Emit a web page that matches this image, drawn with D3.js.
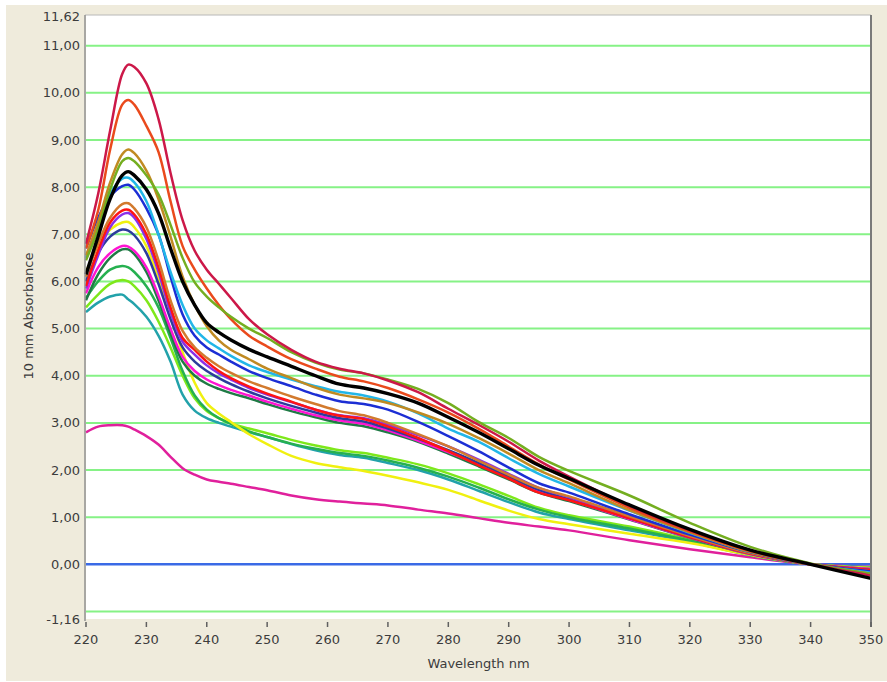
<!DOCTYPE html>
<html>
<head>
    <meta charset="utf-8">
    <script type="text/javascript" src="https://d3js.org/d3.v7.min.js"></script>
    <style>
        body { margin: 0; background: #ffffff; }
        svg { display: block; font-family: "DejaVu Sans", "Liberation Sans", sans-serif; }
    </style>
</head>
<body>
    <svg></svg>
    <script>
        // wavelengths (nm) at which each spectrum was read
        const wavelengths = [220, 222, 224, 226, 227, 228, 230, 232, 234, 236, 238, 240, 242, 244, 247, 250, 254, 258, 262, 266, 270, 275, 280, 285, 290, 295, 300, 310, 320, 330, 340, 350];

        const crimson   = [6.8, 7.85, 9.2, 10.4, 10.6, 10.55, 10.2, 9.45, 8.3, 7.3, 6.65, 6.25, 5.95, 5.65, 5.2, 4.88, 4.55, 4.3, 4.15, 4.05, 3.9, 3.65, 3.3, 2.96, 2.6, 2.2, 1.86, 1.24, 0.72, 0.3, 0.0, -0.24];
        const orangeRed = [6.7, 7.5, 8.8, 9.75, 9.85, 9.75, 9.3, 8.75, 7.7, 6.75, 6.25, 5.85, 5.5, 5.2, 4.85, 4.62, 4.35, 4.15, 3.98, 3.88, 3.74, 3.5, 3.22, 2.88, 2.5, 2.12, 1.8, 1.2, 0.7, 0.28, 0.0, -0.22];
        const olive     = [6.45, 7.1, 7.95, 8.55, 8.62, 8.55, 8.25, 7.85, 7.2, 6.5, 5.98, 5.68, 5.45, 5.25, 5.0, 4.8, 4.5, 4.28, 4.13, 4.05, 3.92, 3.72, 3.42, 3.02, 2.68, 2.28, 1.98, 1.46, 0.88, 0.37, 0.02, -0.2];
        const goldBrown = [6.55, 7.25, 8.1, 8.7, 8.8, 8.72, 8.35, 7.75, 6.95, 6.1, 5.5, 5.05, 4.75, 4.55, 4.35, 4.15, 3.95, 3.75, 3.6, 3.52, 3.42, 3.22, 2.98, 2.68, 2.35, 2.0, 1.72, 1.15, 0.68, 0.27, 0.0, -0.2];
        const black     = [6.15, 6.95, 7.75, 8.25, 8.33, 8.25, 7.95, 7.45, 6.7, 6.0, 5.5, 5.12, 4.92, 4.76, 4.56, 4.4, 4.2, 4.0, 3.82, 3.74, 3.62, 3.42, 3.12, 2.8, 2.45, 2.1, 1.82, 1.26, 0.74, 0.3, 0.0, -0.3];
        const cyan      = [6.5, 7.2, 7.85, 8.18, 8.2, 8.1, 7.7, 7.0, 6.2, 5.5, 5.0, 4.75, 4.58, 4.42, 4.22, 4.08, 3.92, 3.78, 3.66, 3.58, 3.45, 3.2, 2.88, 2.6, 2.25, 1.92, 1.65, 1.14, 0.67, 0.27, 0.0, -0.18];
        const blue      = [6.7, 7.35, 7.8, 8.02, 8.05, 7.95, 7.55, 7.0, 6.1, 5.3, 4.85, 4.6, 4.45, 4.3, 4.1, 3.95, 3.78, 3.6, 3.46, 3.4, 3.28, 3.02, 2.72, 2.4, 2.05, 1.72, 1.52, 1.06, 0.63, 0.26, 0.0, -0.15];
        const peru      = [6.1, 6.8, 7.35, 7.64, 7.66, 7.55, 7.15, 6.45, 5.6, 4.95, 4.6, 4.38, 4.2, 4.06, 3.88, 3.74, 3.56, 3.4, 3.25, 3.16, 3.0, 2.76, 2.5, 2.2, 1.9, 1.62, 1.44, 1.02, 0.6, 0.24, 0.0, -0.15];
        const red       = [5.9, 6.65, 7.25, 7.5, 7.52, 7.42, 7.0, 6.3, 5.45, 4.8, 4.55, 4.3, 4.1, 3.95, 3.77, 3.62, 3.45, 3.28, 3.15, 3.08, 2.92, 2.68, 2.4, 2.1, 1.82, 1.52, 1.36, 0.98, 0.58, 0.23, 0.0, -0.12];
        const purple    = [5.85, 6.55, 7.15, 7.42, 7.45, 7.35, 6.9, 6.2, 5.35, 4.72, 4.45, 4.22, 4.05, 3.92, 3.74, 3.6, 3.44, 3.28, 3.16, 3.1, 2.96, 2.74, 2.5, 2.22, 1.92, 1.62, 1.42, 1.0, 0.6, 0.24, 0.0, -0.14];
        const yellow    = [6.2, 6.75, 7.1, 7.25, 7.26, 7.15, 6.75, 6.05, 5.25, 4.5, 3.85, 3.42, 3.2, 3.02, 2.76, 2.55, 2.3, 2.15, 2.06, 1.98, 1.88, 1.74, 1.58, 1.36, 1.14, 0.96, 0.85, 0.65, 0.45, 0.2, 0.0, -0.08];
        const navy      = [6.0, 6.6, 6.95, 7.1, 7.08, 6.98, 6.6, 5.95, 5.2, 4.6, 4.3, 4.1, 3.95, 3.82, 3.66, 3.52, 3.36, 3.22, 3.1, 3.03, 2.88, 2.66, 2.42, 2.15, 1.86, 1.58, 1.38, 0.98, 0.58, 0.23, 0.0, -0.12];
        const magenta   = [5.75, 6.3, 6.6, 6.75, 6.74, 6.65, 6.3, 5.7, 5.0, 4.4, 4.1, 3.92, 3.8, 3.7, 3.58, 3.45, 3.3, 3.16, 3.05, 2.98, 2.84, 2.62, 2.38, 2.12, 1.84, 1.55, 1.37, 0.96, 0.57, 0.22, 0.0, -0.1];
        const darkGreen = [5.6, 6.15, 6.5, 6.68, 6.68, 6.58, 6.2, 5.6, 4.9, 4.3, 4.0, 3.83, 3.72, 3.63, 3.52, 3.4, 3.25, 3.12, 3.0, 2.93, 2.8, 2.6, 2.35, 2.08, 1.8, 1.52, 1.34, 0.95, 0.56, 0.22, 0.0, -0.1];
        const seaGreen  = [5.65, 6.0, 6.25, 6.33, 6.3, 6.2, 5.9, 5.45, 4.8, 4.1, 3.58, 3.28, 3.1, 2.98, 2.82, 2.7, 2.56, 2.45, 2.36, 2.3, 2.2, 2.05, 1.86, 1.63, 1.38, 1.16, 1.0, 0.76, 0.5, 0.2, 0.0, -0.08];
        const lawnGreen = [5.45, 5.72, 5.95, 6.03, 6.0, 5.9, 5.6, 5.15, 4.6, 4.0, 3.52, 3.25, 3.1, 2.99, 2.88, 2.78, 2.64, 2.52, 2.42, 2.36, 2.26, 2.12, 1.93, 1.7, 1.45, 1.2, 1.04, 0.8, 0.52, 0.2, 0.0, -0.08];
        const teal      = [5.35, 5.55, 5.68, 5.72, 5.62, 5.52, 5.25, 4.85, 4.3, 3.6, 3.26, 3.1, 3.0, 2.92, 2.8, 2.7, 2.55, 2.42, 2.32, 2.26, 2.15, 2.0, 1.8, 1.56, 1.32, 1.1, 0.96, 0.72, 0.48, 0.19, 0.0, -0.06];
        const pink      = [2.8, 2.92, 2.95, 2.95, 2.92, 2.86, 2.72, 2.54, 2.28, 2.04, 1.9, 1.8, 1.75, 1.71, 1.64, 1.57, 1.46, 1.38, 1.33, 1.29, 1.25, 1.16, 1.08, 0.98, 0.88, 0.8, 0.72, 0.51, 0.32, 0.15, 0.0, -0.05];

        // drawing order: first drawn lies underneath
        const seriesNames = ["pink", "teal", "lawnGreen", "seaGreen", "yellow", "darkGreen", "magenta", "navy", "purple", "red", "peru", "blue", "cyan", "goldBrown", "orangeRed", "olive", "crimson", "black"];
        const seriesValues = [pink, teal, lawnGreen, seaGreen, yellow, darkGreen, magenta, navy, purple, red, peru, blue, cyan, goldBrown, orangeRed, olive, crimson, black];
        const seriesColors = ["#e0209c", "#22a2aa", "#7ee81a", "#26b050", "#f0f010", "#1f7a45", "#ff14d2", "#2c3c9c", "#8a30e8", "#ff1414", "#d27a2e", "#1c2ed4", "#22b6e8", "#c08a22", "#ea4a1c", "#74ae20", "#cc1848", "#000000"];

        const yTicks = [-1.16, 0, 1, 2, 3, 4, 5, 6, 7, 8, 9, 10, 11, 11.62];
        const gridValues = [-1, 1, 2, 3, 4, 5, 6, 7, 8, 9, 10, 11];
        const xTicks = [220, 230, 240, 250, 260, 270, 280, 290, 300, 310, 320, 330, 340, 350];

        const W = 887, H = 682;
        const plotL = 86, plotR = 871, plotT = 16.5, plotB = 619;

        const svg = d3.select("svg").attr("width", W).attr("height", H);

        // beige panel
        svg.append("rect").attr("x", 6).attr("y", 5).attr("width", W - 6).attr("height", H - 6)
            .attr("fill", "#efebdc");

        const x = d3.scaleLinear().domain([220, 350]).range([plotL, plotR]);
        const y = d3.scaleLinear().domain([-1.16, 11.62]).range([plotB, plotT]);

        // plot area
        svg.append("rect").attr("x", plotL).attr("y", plotT - 1.5).attr("width", plotR - plotL).attr("height", plotB - plotT + 1.5)
            .attr("fill", "#ffffff");

        // gridlines
        svg.append("g").selectAll("line").data(gridValues).enter().append("line")
            .attr("x1", plotL).attr("x2", plotR)
            .attr("y1", d => y(d)).attr("y2", d => y(d))
            .attr("stroke", "#86f286").attr("stroke-width", 2);

        svg.append("line").attr("x1", plotL).attr("x2", plotR)
            .attr("y1", y(0)).attr("y2", y(0))
            .attr("stroke", "#3a6ae6").attr("stroke-width", 2.5);

        // spectra
        const line = d3.line()
            .x((d, i) => x(wavelengths[i]))
            .y(d => y(d))
            .curve(d3.curveCatmullRom.alpha(0.5));

        svg.append("g").selectAll("path").data(seriesValues).enter().append("path")
            .attr("d", d => line(d))
            .attr("fill", "none")
            .attr("stroke", (d, i) => seriesColors[i])
            .attr("stroke-width", (d, i) => seriesNames[i] === "black" ? 3.4 : 2.5)
            .attr("stroke-linejoin", "round");

        // borders
        svg.append("line").attr("x1", plotL - 1).attr("x2", plotR).attr("y1", plotT - 1.5).attr("y2", plotT - 1.5)
            .attr("stroke", "#b8b8b8").attr("stroke-width", 1);
        svg.append("line").attr("x1", plotL - 1).attr("x2", plotL - 1).attr("y1", plotT - 1.5).attr("y2", plotB + 2)
            .attr("stroke", "#909090").attr("stroke-width", 1.5);
        svg.append("line").attr("x1", plotR).attr("x2", plotR).attr("y1", plotT - 1.5).attr("y2", plotB + 8)
            .attr("stroke", "#7a7a7a").attr("stroke-width", 2);

        // y labels (comma decimals, plain hyphen minus)
        const fmt = v => (v < 0 ? "-" : "") + Math.abs(v).toFixed(2).replace(".", ",");
        svg.append("g").selectAll("text").data(yTicks).enter().append("text")
            .attr("x", plotL - 6).attr("y", d => y(d)).attr("dy", "0.35em")
            .attr("text-anchor", "end").attr("font-size", 13).attr("fill", "#3c3c3c")
            .text(d => fmt(d));

        // x ticks and labels
        const xt = svg.append("g");
        xt.selectAll("line").data(xTicks).enter().append("line")
            .attr("x1", d => x(d)).attr("x2", d => x(d))
            .attr("y1", plotB + 3).attr("y2", plotB + 8)
            .attr("stroke", "#606060").attr("stroke-width", 1.5);
        xt.selectAll("text").data(xTicks).enter().append("text")
            .attr("x", d => x(d)).attr("y", plotB + 25)
            .attr("text-anchor", "middle").attr("font-size", 13).attr("fill", "#3c3c3c")
            .text(d => d);

        // axis titles
        svg.append("text").attr("x", (plotL + plotR) / 2).attr("y", 668)
            .attr("text-anchor", "middle").attr("font-size", 13).attr("fill", "#3c3c3c")
            .text("Wavelength nm");
        svg.append("text").attr("transform", "translate(33,316) rotate(-90)")
            .attr("text-anchor", "middle").attr("font-size", 13).attr("fill", "#3c3c3c")
            .text("10 mm Absorbance");
    </script>
</body>
</html>
